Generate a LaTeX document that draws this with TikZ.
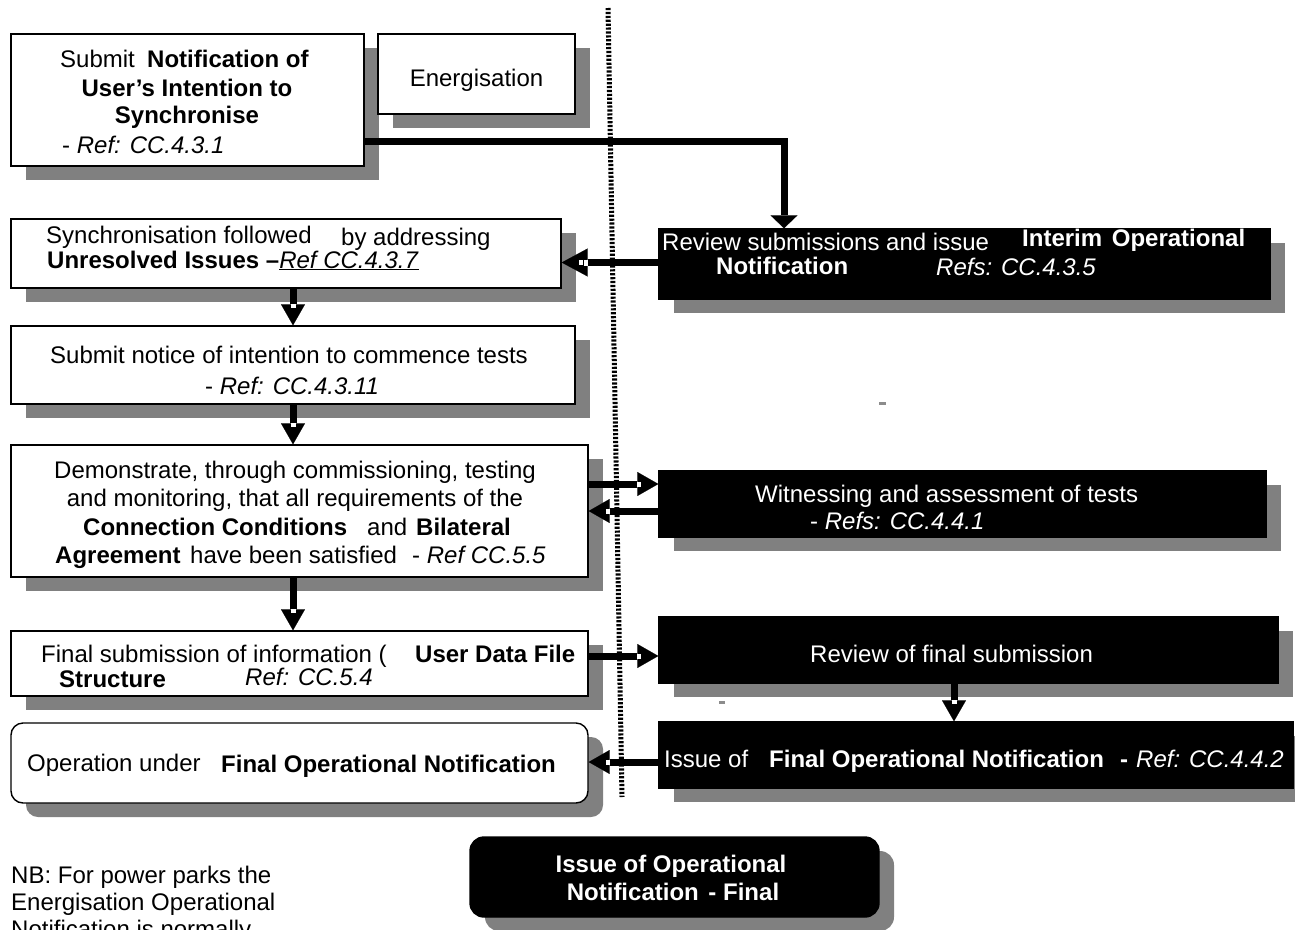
\documentclass[tikz,border=0pt]{standalone}
\usepackage{fontspec}
\setmainfont{Liberation Sans}
\usetikzlibrary{arrows.meta,shadows,decorations.markings}
\definecolor{shade}{gray}{0.5}
\definecolor{speck}{gray}{0.55}
\tikzset{
  every node/.style={font=\fontsize{24pt}{28.5pt}\selectfont},
  box/.style={draw=black, line width=1.4pt, fill=white, inner sep=0pt,
    drop shadow={shadow xshift=15pt, shadow yshift=-14pt, fill=shade, opacity=1}},
  darkbox/.style={box, fill=black},
  txt/.style={anchor=base west, inner sep=0pt},
  ctxt/.style={anchor=base, inner sep=0pt},
  wtxt/.style={txt, text=white},
  wctxt/.style={ctxt, text=white},
  conn/.style={line width=7pt,
    -{Triangle[width=24pt,length=21pt,line width=0.1pt]},
    postaction={decorate},
    decoration={markings,
      mark=at position -19pt with {\fill[white] (-2pt,-2.5pt) rectangle (2pt,2.5pt);}}},
  bigconn/.style={conn, -{Triangle[width=28pt,length=26pt,line width=0.1pt]},
    decoration={markings,
      mark=at position -24pt with {\fill[white] (-2pt,-3pt) rectangle (2pt,3pt);}}},
  flatconn/.style={line width=7pt, -{Triangle[width=27pt,length=13pt,line width=0.1pt]}},
  divider/.style={line width=5pt, dash pattern=on 2.2pt off 1.7pt},
}
\begin{document}
\begin{tikzpicture}[x=1pt, y=-1pt]
\useasboundingbox (0,0) rectangle (1295,929);

% vertical divider between the user side and the operator side
\coordinate (dtop) at (608,8);
\coordinate (dbot) at (622,797);
\draw[divider] (dtop) -- (dbot);

% ---- user side ----
\node[box, minimum width=353pt, minimum height=132pt] (submit) at (187.5,100) {};
\node[txt] (s1) at (60,67) {Submit};
\node[txt] (s2) at (147,67) {\textbf{Notification of}};
\node[ctxt] (s3) at (187,96) {\textbf{User’s Intention to}};
\node[ctxt] (s4) at (187,123) {\textbf{Synchronise}};
\node[txt] (s5) at (62,153) {- \textit{Ref: CC.4.3.1}};

\node[box, minimum width=197pt, minimum height=80pt] (energ) at (476.5,74) {};
\node[ctxt] (e1) at (476.5,86) {Energisation};

\node[box, minimum width=550pt, minimum height=69pt] (sync) at (286,253.5) {};
\node[txt] (y1) at (46,243) {Synchronisation followed};
\node[txt] (y2) at (341,245) {by addressing};
\node[txt] (y3) at (47,268) {\textbf{Unresolved Issues –}\underline{\textit{Ref CC.4.3.7}}};

\node[box, minimum width=564pt, minimum height=78pt] (notice) at (293,365) {};
\node[ctxt] (n1) at (289,363) {Submit notice of intention to commence tests};
\node[txt] (n2) at (205,394) {- \textit{Ref: CC.4.3.11}};

\node[box, minimum width=577pt, minimum height=132pt] (demo) at (299.5,511) {};
\node[ctxt] (d1) at (295,478) {Demonstrate, through commissioning, testing};
\node[ctxt] (d2) at (295,506.5) {and monitoring, that all requirements of the};
\node[txt] (d3) at (83,535) {\textbf{Connection Conditions}};
\node[txt] (d4) at (367,535) {and};
\node[txt] (d5) at (416,535) {\textbf{Bilateral}};
\node[txt] (d6) at (55,563.5) {\textbf{Agreement}};
\node[txt] (d7) at (190,563.5) {have been satisfied};
\node[txt] (d8) at (412,563.5) {- \textit{Ref CC.5.5}};

\node[box, minimum width=577pt, minimum height=65pt] (finalsub) at (299.5,663.5) {};
\node[txt] (f1) at (41,662) {Final submission of information (};
\node[txt] (f2) at (415,662) {\textbf{User Data File}};
\node[txt] (f3) at (59,687) {\textbf{Structure}};
\node[txt] (f4) at (245,685) {\textit{Ref: CC.5.4}};

\node[box, rounded corners=12pt, minimum width=577pt, minimum height=80pt] (oper) at (299.5,763) {};
\node[txt] (o1) at (27,771) {Operation under};
\node[txt] (o2) at (221,772) {\textbf{Final Operational Notification}};

% ---- operator side ----
\node[darkbox, minimum width=611pt, minimum height=70pt] (review) at (964.5,264) {};
\node[wtxt] (r1) at (662,250) {Review submissions and issue};
\node[wtxt] (r2) at (1022,246) {\textbf{Interim\hspace{3pt} Operational}};
\node[wtxt] (r3) at (716,274) {\textbf{Notification}};
\node[wtxt] (r4) at (936,275) {\textit{Refs: CC.4.3.5}};

\node[darkbox, minimum width=607pt, minimum height=66pt] (witness) at (962.5,504) {};
\node[wtxt] (w1) at (755,502) {Witnessing and assessment of tests};
\node[wtxt] (w2) at (810,529) {- \textit{Refs: CC.4.4.1}};

\node[darkbox, minimum width=619pt, minimum height=66pt] (revfinal) at (968.5,650) {};
\node[wtxt] (v1) at (810,662) {Review of final submission};

\node[darkbox, minimum width=634pt, minimum height=66pt] (issue) at (976,755) {};
\node[wtxt] (i1) at (664,767) {Issue of};
\node[wtxt] (i2) at (769,767) {\textbf{Final Operational Notification}};
\node[wtxt] (i3) at (1120,767) {\textbf{-}};
\node[wtxt] (i4) at (1136,767) {\textit{Ref: CC.4.4.2}};

\node[darkbox, rounded corners=14pt, minimum width=409pt, minimum height=80pt] (final) at (674.5,877) {};
\node[wctxt] (b1) at (671,872) {\textbf{Issue of Operational}};
\node[wctxt] (b2) at (673,900) {\textbf{Notification\hspace{3pt} - Final}};

% note, running off the lower edge
\begin{scope}
\clip (0,0) rectangle (1295,929);
\node[txt] (nb1) at (11,883) {NB: For power parks the};
\node[txt] (nb2) at (11,910) {Energisation Operational};
\node[txt] (nb3) at (11,937) {Notification is normally};
\end{scope}

% stray specks
\fill[speck] (879,402) rectangle (886,404.5);
\fill[speck] (719,701) rectangle (725,703.5);

% ---- connectors ----
\draw[flatconn] ([yshift=-41pt]submit.east) -| ([xshift=-180.5pt]review.north);
\draw[bigconn] ([yshift=1.5pt]review.west) -- ([yshift=-9pt]sync.east);
\draw[conn] ([xshift=7pt]sync.south) -- (notice.north);
\draw[conn] (notice.south) -- ([xshift=-6.5pt]demo.north);
\draw[conn] ([yshift=27pt]demo.east) -- ([yshift=20pt]witness.west);
\draw[conn] ([yshift=-7pt]witness.west) -- (demo.east);
\draw[conn] ([xshift=-6.5pt]demo.south) -- ([xshift=-6.5pt]finalsub.north);
\draw[conn] ([yshift=7.5pt]finalsub.east) -- ([yshift=-6pt]revfinal.west);
\draw[conn] ([xshift=-14.5pt]revfinal.south) -- ([xshift=-22pt]issue.north);
\draw[conn] ([yshift=-7pt]issue.west) -- ([yshift=1pt]oper.east);
\end{tikzpicture}
\end{document}
